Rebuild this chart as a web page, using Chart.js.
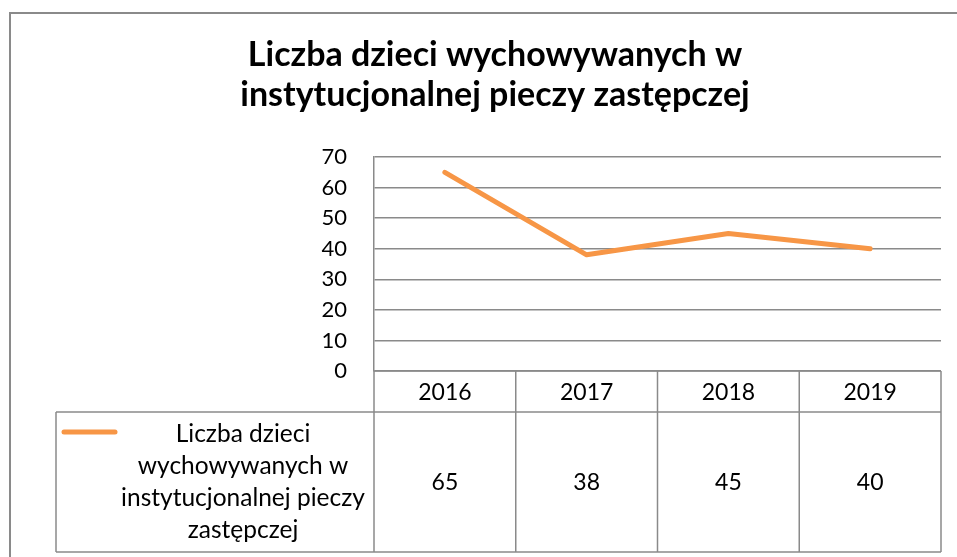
<!DOCTYPE html>
<html>
<head>
<meta charset="utf-8">
<script src="https://cdn.jsdelivr.net/npm/chart.js@4.4.0/dist/chart.umd.min.js"></script>
<style>
    html, body { margin: 0; padding: 0; background: #ffffff; overflow: hidden; }
    #wrap { width: 990px; height: 557px; }
</style>
</head>
<body>
<div id="wrap"><canvas id="wykres"></canvas></div>
<script>
// DANE
const lata = ['2016', '2017', '2018', '2019'];
const liczbaDzieci = [65, 38, 45, 40];
const nazwaSerii = 'Liczba dzieci wychowywanych w instytucjonalnej pieczy zastępczej';
const liniaLegendy = ['Liczba dzieci', 'wychowywanych w', 'instytucjonalnej pieczy', 'zastępczej'];
const tytul = ['Liczba dzieci wychowywanych w', 'instytucjonalnej pieczy zastępczej'];

const FONT = 'Lato, "Open Sans", sans-serif';
const SZARY = '#8a8a8a';
const POMARANCZ = '#F79646';

// ramka calego wykresu + tytul (wysrodkowany na calej ramce, ktora wychodzi poza kadr)
const ramka = {
    id: 'ramka',
    beforeDraw(chart) {
        const ctx = chart.ctx;
        ctx.save();
        ctx.strokeStyle = SZARY;
        ctx.lineWidth = 2;
        ctx.strokeRect(10, 13, chart.width + 50, chart.height + 50);

        ctx.fillStyle = '#000000';
        ctx.font = 'bold 34px ' + FONT;
        ctx.textAlign = 'center';
        ctx.textBaseline = 'alphabetic';
        tytul.forEach((t, i) => {
            ctx.fillText(t, 495, 66 + i * 40);
        });
        ctx.restore();
    }
};

// tabela danych pod wykresem
const tabelaDanych = {
    id: 'tabelaDanych',
    afterDraw(chart) {
        const ctx = chart.ctx;
        const area = chart.chartArea;
        const x = chart.scales.x;
        const y0 = area.bottom;
        const y1 = y0 + 41;
        const y2 = 552;
        const lewa = 56;
        const szer = (area.right - area.left) / lata.length;

        ctx.save();
        ctx.strokeStyle = SZARY;
        ctx.lineWidth = 1.5;
        ctx.beginPath();
        // poziome
        ctx.moveTo(area.left, y0); ctx.lineTo(area.right, y0);
        ctx.moveTo(lewa, y1); ctx.lineTo(area.right, y1);
        ctx.moveTo(lewa, y2); ctx.lineTo(area.right, y2);
        // pionowe
        ctx.moveTo(lewa, y1); ctx.lineTo(lewa, y2);
        for (let i = 0; i <= lata.length; i++) {
            const px = area.left + i * szer;
            ctx.moveTo(px, y0); ctx.lineTo(px, y2);
        }
        ctx.stroke();

        ctx.fillStyle = '#000000';
        ctx.font = '23px ' + FONT;
        ctx.textAlign = 'center';
        ctx.textBaseline = 'middle';
        lata.forEach((rok, i) => {
            const px = x.getPixelForValue(i);
            ctx.fillText(rok, px, (y0 + y1) / 2 + 1);
            ctx.fillText(String(liczbaDzieci[i]), px, (y1 + y2) / 2 + 1);
        });

        // legenda
        const ds = chart.data.datasets[0];
        ctx.strokeStyle = ds.borderColor;
        ctx.lineWidth = 5;
        ctx.lineCap = 'round';
        ctx.beginPath();
        ctx.moveTo(64, y1 + 20);
        ctx.lineTo(115, y1 + 20);
        ctx.stroke();

        ctx.font = '24.5px ' + FONT;
        const srodek = 243;
        liniaLegendy.forEach((t, i) => {
            ctx.fillText(t, srodek, y1 + 22 + i * 32);
        });
        ctx.restore();
    }
};

const wykres = document.getElementById('wykres');
new Chart(wykres, {
    type: 'line',
    data: {
        labels: lata,
        datasets: [{
            label: nazwaSerii,
            data: liczbaDzieci,
            borderColor: POMARANCZ,
            borderWidth: 5,
            borderCapStyle: 'round',
            borderJoinStyle: 'round',
            pointRadius: 0,
            tension: 0
        }]
    },
    options: {
        responsive: true,
        maintainAspectRatio: false,
        animation: false,
        layout: {
            padding: { left: 0, right: 49, top: 157, bottom: 186 }
        },
        plugins: {
            legend: { display: false },
            tooltip: { enabled: false },
            title: { display: false }
        },
        scales: {
            x: {
                offset: true,
                grid: { display: false },
                border: { display: false },
                ticks: { display: false },
                afterFit(scale) { scale.height = 0; }
            },
            y: {
                min: 0,
                max: 70,
                ticks: {
                    stepSize: 10,
                    color: '#000000',
                    padding: 27,
                    font: { family: FONT, size: 22 }
                },
                grid: { color: SZARY, lineWidth: 1.5, drawTicks: false },
                border: { display: true, color: SZARY, width: 1.5 },
                afterFit(scale) { scale.width = 374; }
            }
        }
    },
    plugins: [ramka, tabelaDanych]
});
</script>
</body>
</html>
